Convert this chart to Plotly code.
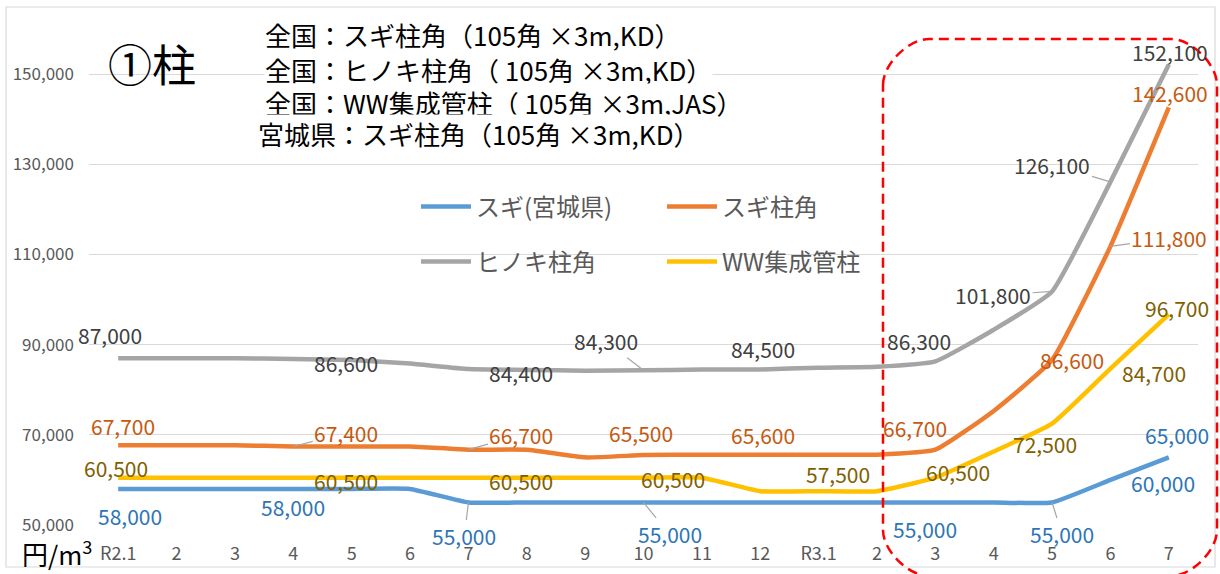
import plotly.graph_objects as go

# ---------------- data ----------------
categories = ["R2.1", "2", "3", "4", "5", "6", "7", "8", "9", "10", "11", "12",
              "R3.1", "2", "3", "4", "5", "6", "7"]
sugi_miyagi = [58000, 58000, 58000, 58000, 58000, 58000, 55000, 55000, 55000, 55000,
               55000, 55000, 55000, 55000, 55000, 55000, 55000, 60000, 65000]
sugi_hashira = [67700, 67700, 67700, 67400, 67400, 67400, 66700, 66700, 65000, 65500,
                65600, 65600, 65600, 65600, 66700, 75300, 86600, 111800, 142600]
hinoki_hashira = [87000, 87000, 87000, 86800, 86600, 85800, 84600, 84400, 84200, 84300,
                  84500, 84500, 84900, 85100, 86300, 93300, 101800, 126100, 152100]
ww_shusei = [60500, 60500, 60500, 60500, 60500, 60500, 60500, 60500, 60500, 60500,
             60500, 57500, 57500, 57500, 60500, 66300, 72500, 84700, 96700]
series_names = ["スギ(宮城県)", "スギ柱角", "ヒノキ柱角", "WW集成管柱"]
y_ticks = [50000, 70000, 90000, 110000, 130000, 150000]
info_lines = ["全国：スギ柱角（105角 ×3m,KD）",
              "全国：ヒノキ柱角（ 105角 ×3m,KD）",
              "全国：WW集成管柱（ 105角 ×3m,JAS）",
              "宮城県：スギ柱角（105角 ×3m,KD）"]

# labelled points: (series index, point index, x-shift px, y-shift px, leader)
label_spec = [
    (2, 0, -8, 23, False), (2, 4, -6, -3, False), (2, 7, -6, -3, False),
    (2, 9, -38, 29, True), (2, 11, 3, 20, False), (2, 14, -16, 20, False),
    (2, 16, -59, -4, True), (2, 17, -58, 17, True), (2, 18, 1, 13, False),
    (1, 0, 5, 19, False), (1, 3, 53, 14, True), (1, 6, 53, 15, True),
    (1, 9, -3, 22, False), (1, 11, 3, 20, False), (1, 14, -20, 22, False),
    (1, 16, 20, 0, False), (1, 17, 59, 8, True), (1, 18, 1, 14, False),
    (3, 0, -2, 10, False), (3, 4, -6, -3, False), (3, 7, -6, -3, False),
    (3, 10, -29, -1, False), (3, 12, 19, 17, False), (3, 14, 23, 6, False),
    (3, 16, -7, -20, False), (3, 17, 44, -4, False), (3, 18, 8, 6, False),
    (0, 0, 12, -27, False), (0, 3, 0, -18, False), (0, 6, -4, -34, True),
    (0, 9, 26, -32, True), (0, 14, -10, -27, False), (0, 16, 10, -32, True),
    (0, 17, 53, -3, False), (0, 18, 8, 22, False),
]

# ---------------- styling ----------------
line_colors = ["#5B9BD5", "#ED7D31", "#A5A5A5", "#FFC000"]
label_colors = ["#2E75B6", "#C55A11", "#404040", "#7F6000"]
FONT = "Noto Sans CJK JP"
W, H = 1220, 574
L, R, T, B = 89, 22, 29, 49
PW, PH = W - L - R, H - T - B


def px(x):
    return (x - L) / PW


def py(y):
    return (H - B - y) / PH


all_series = [sugi_miyagi, sugi_hashira, hinoki_hashira, ww_shusei]
xs = list(range(len(categories)))

fig = go.Figure()
legend_ids = ["legend", "legend2", "legend3", "legend4"]
for i, (name, vals) in enumerate(zip(series_names, all_series)):
    fig.add_trace(go.Scatter(
        x=xs, y=vals, name=name, mode="lines",
        line=dict(color=line_colors[i], width=4.5, shape="spline", smoothing=0.4),
        legend=legend_ids[i], hoverinfo="skip"))

annotations = []
for si, idx, dx, dy, leader in label_spec:
    v = all_series[si][idx]
    txt = f"{v:,}"
    if leader:
        annotations.append(dict(
            x=idx, y=v, xref="x", yref="y", text=txt, showarrow=True,
            ax=dx, ay=-dy, axref="pixel", ayref="pixel", arrowhead=0,
            arrowwidth=1.2, arrowcolor="#A6A6A6", standoff=0, startstandoff=0,
            font=dict(family=FONT, size=21, color=label_colors[si])))
    else:
        annotations.append(dict(
            x=idx, y=v, xref="x", yref="y", text=txt, showarrow=False,
            xshift=dx, yshift=dy, xanchor="center", yanchor="middle",
            font=dict(family=FONT, size=21, color=label_colors[si])))

# title texts
annotations.append(dict(x=px(152), y=py(63), xref="paper", yref="paper", text="①柱",
                        showarrow=False, xanchor="center", yanchor="middle",
                        font=dict(family=FONT, size=44, color="#000000")))
for txt, yc, xl in zip(info_lines, [35, 69, 102, 133], [264, 264, 264, 257]):
    annotations.append(dict(x=px(xl), y=py(yc), xref="paper", yref="paper", text=txt,
                            showarrow=False, xanchor="left", yanchor="middle",
                            bgcolor="#FFFFFF", borderpad=0,
                            font=dict(family=FONT, size=26, color="#000000")))
annotations.append(dict(x=px(20), y=py(552), xref="paper", yref="paper",
                        text="円/m<sup>3</sup>", showarrow=False,
                        xanchor="left", yanchor="middle",
                        font=dict(family=FONT, size=26, color="#000000")))

# shapes: chart border and red dashed rounded rectangle
x0, x1, y0, y1, r = 883, 1217, 39, 576, 46
k = 0.45 * r


def P(x, y):
    return f"{px(x):.5f},{py(y):.5f}"


path = (f"M{P(x0, y0 + r)} C{P(x0, y0 + r - k)} {P(x0 + r - k, y0)} {P(x0 + r, y0)} "
        f"L{P(x1 - r, y0)} C{P(x1 - r + k, y0)} {P(x1, y0 + r - k)} {P(x1, y0 + r)} "
        f"L{P(x1, y1 - r)} C{P(x1, y1 - r + k)} {P(x1 - r + k, y1)} {P(x1 - r, y1)} "
        f"L{P(x0 + r, y1)} C{P(x0 + r - k, y1)} {P(x0, y1 - r + k)} {P(x0, y1 - r)} Z")
shapes = [
    dict(type="rect", xref="paper", yref="paper", x0=px(6), x1=px(1215), y0=py(7), y1=py(567),
         line=dict(color="#D9D9D9", width=1.2), layer="below"),
    dict(type="path", xref="paper", yref="paper", path=path,
         line=dict(color="#FF0000", width=2.5, dash="10px,6px")),
]

legend_pos = [(416, 207), (662, 207), (416, 262), (662, 262)]
legend_layouts = {}
for lid, (lx, ly) in zip(legend_ids, legend_pos):
    legend_layouts[lid] = dict(x=px(lx), y=py(ly), xanchor="left", yanchor="middle",
                               bgcolor="rgba(0,0,0,0)", itemwidth=50,
                               font=dict(family=FONT, size=24, color="#595959"))

fig.update_layout(
    width=W, height=H, margin=dict(l=L, r=R, t=T, b=B, autoexpand=False),
    paper_bgcolor="#FFFFFF", plot_bgcolor="#FFFFFF",
    showlegend=True, annotations=annotations, shapes=shapes,
    xaxis=dict(range=[-0.5, len(categories) - 0.5], tickmode="array", tickvals=xs,
               ticktext=categories, showgrid=False, zeroline=False, showline=False,
               ticks="", ticklabelstandoff=16,
               tickfont=dict(family=FONT, size=18, color="#595959")),
    yaxis=dict(range=[50000, 160000], tickmode="array", tickvals=y_ticks,
               tickformat=",", showgrid=True, gridcolor="#D9D9D9", gridwidth=1.3,
               zeroline=False, showline=False, ticks="", ticklabelstandoff=14,
               tickfont=dict(family=FONT, size=17, color="#595959")),
    **legend_layouts,
)

fig.write_html("out.html", config={"displayModeBar": False},
               post_script="document.body.style.margin='0px';")
